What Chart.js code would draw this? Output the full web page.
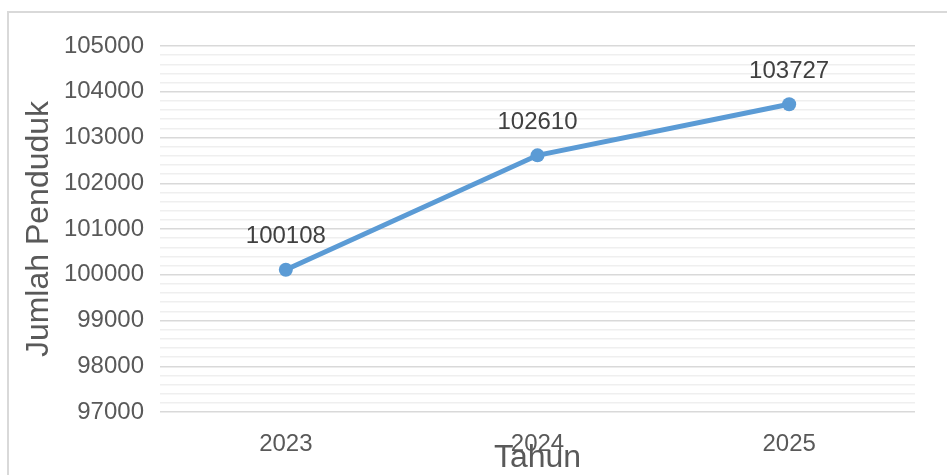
<!DOCTYPE html>
<html>
<head>
<meta charset="utf-8">
<script src="https://cdn.jsdelivr.net/npm/chart.js@4/dist/chart.umd.min.js"></script>
<style>
  html, body { margin: 0; padding: 0; background: #fff; }
  #wrap { position: relative; width: 947px; height: 475px; overflow: hidden; }
  #frame { position: absolute; left: 7px; top: 11px; width: 1000px; height: 500px; border: 2px solid #d9d9d9; box-sizing: border-box; }
  canvas { position: absolute; left: 0; top: 0; }
</style>
</head>
<body>
<div id="wrap">
  <div id="frame"></div>
  <canvas id="c" width="947" height="475"></canvas>
</div>
<script>
const categories = ['2023', '2024', '2025'];
const populationValues = [100108, 102610, 103727];
const yTickLabels = [97000, 98000, 99000, 100000, 101000, 102000, 103000, 104000, 105000];
const xAxisTitle = 'Tahun';
const yAxisTitle = 'Jumlah Penduduk';

const FONT = "'Liberation Sans', Arial, Helvetica, sans-serif";

const dataLabelPlugin = {
  id: 'dataLabels',
  afterDatasetsDraw(chart) {
    const ctx = chart.ctx;
    const meta = chart.getDatasetMeta(0);
    ctx.save();
    ctx.font = '24px ' + FONT;
    ctx.fillStyle = '#404040';
    ctx.textAlign = 'center';
    ctx.textBaseline = 'middle';
    meta.data.forEach((pt, i) => {
      ctx.fillText(String(populationValues[i]), pt.x, pt.y - 33);
    });
    ctx.restore();
  }
};

new Chart(document.getElementById('c'), {
  type: 'line',
  data: {
    labels: categories,
    datasets: [{
      data: populationValues,
      borderColor: '#5B9BD5',
      backgroundColor: '#5B9BD5',
      borderWidth: 5,
      pointRadius: 7,
      pointBorderWidth: 0,
      pointBackgroundColor: '#5B9BD5',
      tension: 0,
      fill: false
    }]
  },
  options: {
    responsive: false,
    animation: false,
    devicePixelRatio: 1,
    layout: { padding: { left: 0, right: 32, top: 46, bottom: 0 } },
    plugins: { legend: { display: false }, tooltip: { enabled: false } },
    scales: {
      x: {
        type: 'category',
        offset: true,
        grid: { display: false, drawTicks: false },
        border: { display: false },
        ticks: { color: '#595959', font: { family: FONT, size: 24 }, padding: 18 },
        title: { display: true, text: xAxisTitle, color: '#595959', font: { family: FONT, size: 32, lineHeight: 1 }, padding: { top: 0, bottom: 1 } },
        afterFit(scale) { scale.height = 63; }
      },
      y: {
        min: yTickLabels[0],
        max: yTickLabels[yTickLabels.length - 1],
        border: { display: false },
        grid: {
          drawTicks: false,
          lineWidth: 1.5,
          color: (c) => (yTickLabels.includes(c.tick && c.tick.value) ? '#d9d9d9' : '#efefef')
        },
        ticks: {
          stepSize: 200,
          autoSkip: false,
          padding: 16,
          color: '#595959',
          font: { family: FONT, size: 24 },
          callback: (v) => (yTickLabels.includes(v) ? String(v) : '')
        },
        title: { display: true, text: yAxisTitle, color: '#595959', font: { family: FONT, size: 32, lineHeight: 1 }, padding: { top: 23, bottom: 0 } },
        afterFit(scale) { scale.width = 160; }
      }
    }
  },
  plugins: [dataLabelPlugin]
});
</script>
</body>
</html>
